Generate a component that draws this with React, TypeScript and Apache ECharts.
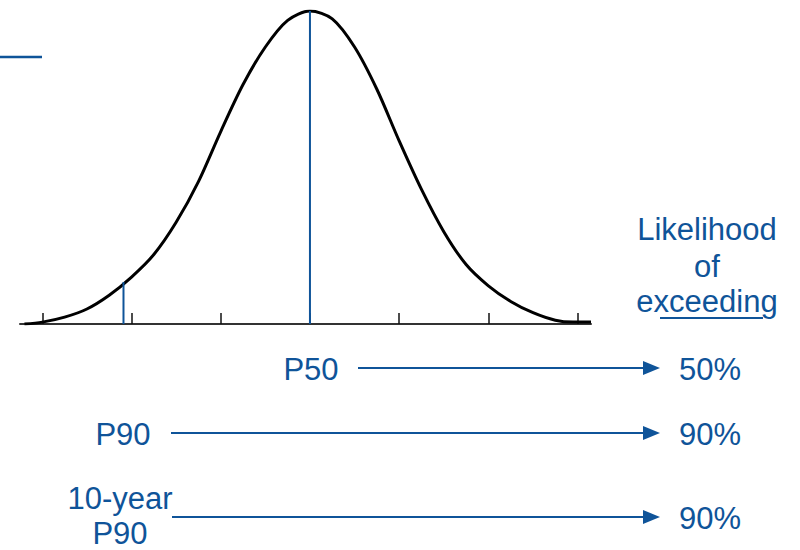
import React, { useEffect, useRef } from "react";
import * as echarts from "echarts";

// Bell curve (x in sigma units from P50, y as fraction of peak height)
const curveX = [-3.2, -3.0, -2.75, -2.5, -2.25, -2.0, -1.75, -1.5, -1.25, -1.0, -0.75, -0.5, -0.25, 0, 0.25, 0.5, 0.75, 1.0, 1.25, 1.5, 1.75, 2.0, 2.25, 2.5, 2.75, 2.95, 3.15];
const curveY = [0.0, 0.006, 0.022, 0.048, 0.092, 0.15, 0.222, 0.325, 0.455, 0.615, 0.765, 0.885, 0.97, 1.0, 0.975, 0.885, 0.75, 0.585, 0.43, 0.295, 0.19, 0.122, 0.072, 0.036, 0.012, 0.006, 0.006];
const tickValues = [-3, -2, -1, 0, 1, 2, 3];
const markerX = [0, -2.09]; // P50, P90
const markerTop = [1.0, 0.134];
const headerLines = ["Likelihood", "of", "exceeding"];
const rowLabels = [["P50"], ["P90"], ["10-year", "P90"]];
const rowValues = ["50%", "90%", "90%"];

const BLUE = "#0f5499";
const FONT = '31px "Liberation Sans", Arial, sans-serif';

export default function App() {
  const ref = useRef<HTMLDivElement>(null);
  useEffect(() => {
    if (!ref.current) return;
    const chart = echarts.init(ref.current, undefined, { renderer: "svg" });

    const rowGeom = [
      { lineY: 368, labelX: 311, labelYs: [369], lineStart: 358 },
      { lineY: 433, labelX: 123, labelYs: [434], lineStart: 171 },
      { lineY: 517, labelX: 120, labelYs: [498, 533], lineStart: 172 },
    ];
    const headerYs = [229, 266, 301];

    const graphics: any[] = [
      { type: "line", shape: { x1: 0, y1: 57, x2: 42, y2: 57 }, style: { stroke: BLUE, lineWidth: 2.5 } },
    ];
    headerLines.forEach((t, i) => {
      graphics.push({
        type: "text",
        style: { text: t, x: 707, y: headerYs[i], font: FONT, fill: BLUE, textAlign: "center", textVerticalAlign: "middle" },
      });
    });
    graphics.push({ type: "line", shape: { x1: 660, y1: 318, x2: 763, y2: 318 }, style: { stroke: BLUE, lineWidth: 2 } });

    rowLabels.forEach((lines, i) => {
      const g = rowGeom[i];
      lines.forEach((t, j) => {
        graphics.push({
          type: "text",
          style: { text: t, x: g.labelX, y: g.labelYs[j], font: FONT, fill: BLUE, textAlign: "center", textVerticalAlign: "middle" },
        });
      });
      graphics.push({ type: "line", shape: { x1: g.lineStart, y1: g.lineY, x2: 646, y2: g.lineY }, style: { stroke: BLUE, lineWidth: 2 } });
      graphics.push({
        type: "polygon",
        shape: { points: [[643, g.lineY - 7], [660, g.lineY], [643, g.lineY + 7]] },
        style: { fill: BLUE },
      });
      graphics.push({
        type: "text",
        style: { text: rowValues[i], x: 679, y: g.lineY + 1, font: FONT, fill: BLUE, textAlign: "left", textVerticalAlign: "middle" },
      });
    });

    chart.setOption({
      animation: false,
      grid: { left: 20, right: 209, top: 11, bottom: 226 },
      xAxis: {
        type: "value",
        min: -3.25,
        max: 3.15,
        axisLine: { show: true, lineStyle: { color: "#333", width: 2 } },
        axisTick: { show: true, inside: true, length: 11, customValues: tickValues, lineStyle: { color: "#111", width: 1.5 } },
        axisLabel: { show: false },
        splitLine: { show: false },
      },
      yAxis: { type: "value", min: 0, max: 1, show: false, splitLine: { show: false } },
      series: markerX
        .map((x, i) => ({
          type: "line",
          data: [[x, 0], [x, markerTop[i]]],
          symbol: "none",
          lineStyle: { color: BLUE, width: 2 },
          z: 3,
        }))
        .concat([
          {
            type: "line",
            data: curveX.map((x, i) => [x, curveY[i]]),
            symbol: "none",
            smooth: 0.3,
            lineStyle: { color: "#000", width: 3 },
            z: 2,
          } as any,
        ]),
      graphic: graphics,
    });
    return () => chart.dispose();
  }, []);
  return <div ref={ref} style={{ width: 800, height: 550, position: "absolute", left: 0, top: 0 }} />;
}
